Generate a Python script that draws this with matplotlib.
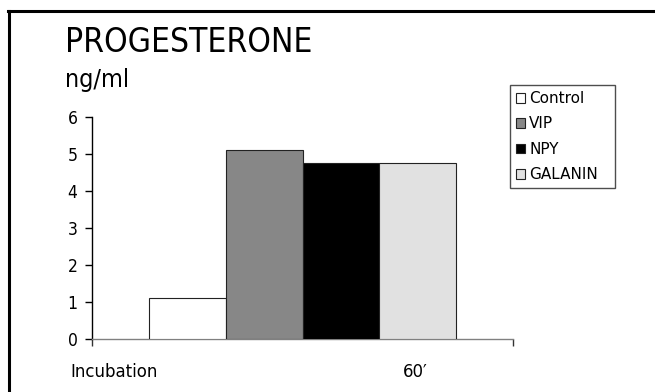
import matplotlib
matplotlib.use("Agg")
import matplotlib.pyplot as plt
from matplotlib.lines import Line2D
import numpy as np

# progesterone after 60' incubation, ng/ml
groups = ["Control", "VIP", "NPY", "GALANIN"]
values = [1.1, 5.1, 4.75, 4.75]
colors = ["#ffffff", "#878787", "#000000", "#e1e1e1"]
yticks = [0, 1, 2, 3, 4, 5, 6]

plt.rcParams["font.family"] = ["DejaVu Sans"]

W, H = 655, 392
fig = plt.figure(figsize=(W / 100, H / 100), dpi=100)
ax = fig.add_axes([92 / W, 1 - 339 / H, (513 - 92) / W, (339 - 117) / H])

# four bars side by side inside the single category slot
bw = 0.727 / len(groups)
xs = (np.arange(len(groups)) - (len(groups) - 1) / 2) * bw
for x, v, c, g in zip(xs, values, colors, groups):
    ax.bar(x, v, width=bw, color=c, edgecolor="#222222", linewidth=0.8, label=g, zorder=3)

ax.set_xlim(-0.5, 0.5)
ax.set_ylim(0, 6)
ax.set_yticks(yticks)
ax.set_xticks([-0.5, 0.5])
ax.set_xticklabels([])
ax.tick_params(axis="y", direction="out", length=5, width=1, labelsize=12.5, pad=5.5)
ax.tick_params(axis="x", direction="out", length=5, width=1, color="#333333")
for lab in ax.get_yticklabels():
    lab.set_fontstretch("condensed")
for s in ["top", "right"]:
    ax.spines[s].set_visible(False)
ax.spines["left"].set_linewidth(1)
ax.spines["bottom"].set_color("#808080")
ax.spines["bottom"].set_linewidth(1)

fig.text(65 / W, 1 - 52 / H, "PROGESTERONE", fontsize=24, fontstretch="condensed",
         va="baseline", ha="left")
fig.text(65 / W, 1 - 87 / H, "ng/ml", fontsize=18, fontstretch="condensed",
         va="baseline", ha="left")
fig.text(70 / W, 1 - 377 / H, "Incubation", fontsize=12, va="baseline", ha="left")
fig.text(415 / W, 1 - 377 / H, "60\u2032", fontsize=12, va="baseline", ha="center")

leg = ax.legend(loc="upper left", bbox_to_anchor=(510 / W, 1 - 189 / H, 105 / W, 104 / H),
                bbox_transform=fig.transFigure, mode="expand", borderaxespad=0,
                fontsize=11, handlelength=0.6, handleheight=0.6, handletextpad=0.25,
                labelspacing=0.68, borderpad=0.4, fancybox=False, frameon=True)
leg.get_frame().set_edgecolor("#222222")
leg.get_frame().set_linewidth(1)

# frame lines on the top and left of the slide
fig.add_artist(Line2D([8.5 / W, 8.5 / W], [0, 1 - 10.5 / H], color="black", linewidth=2.2,
                      transform=fig.transFigure))
fig.add_artist(Line2D([7.5 / W, 1], [1 - 10.5 / H, 1 - 10.5 / H], color="black", linewidth=2.2,
                      transform=fig.transFigure))

fig.savefig("out.png", dpi=100)
